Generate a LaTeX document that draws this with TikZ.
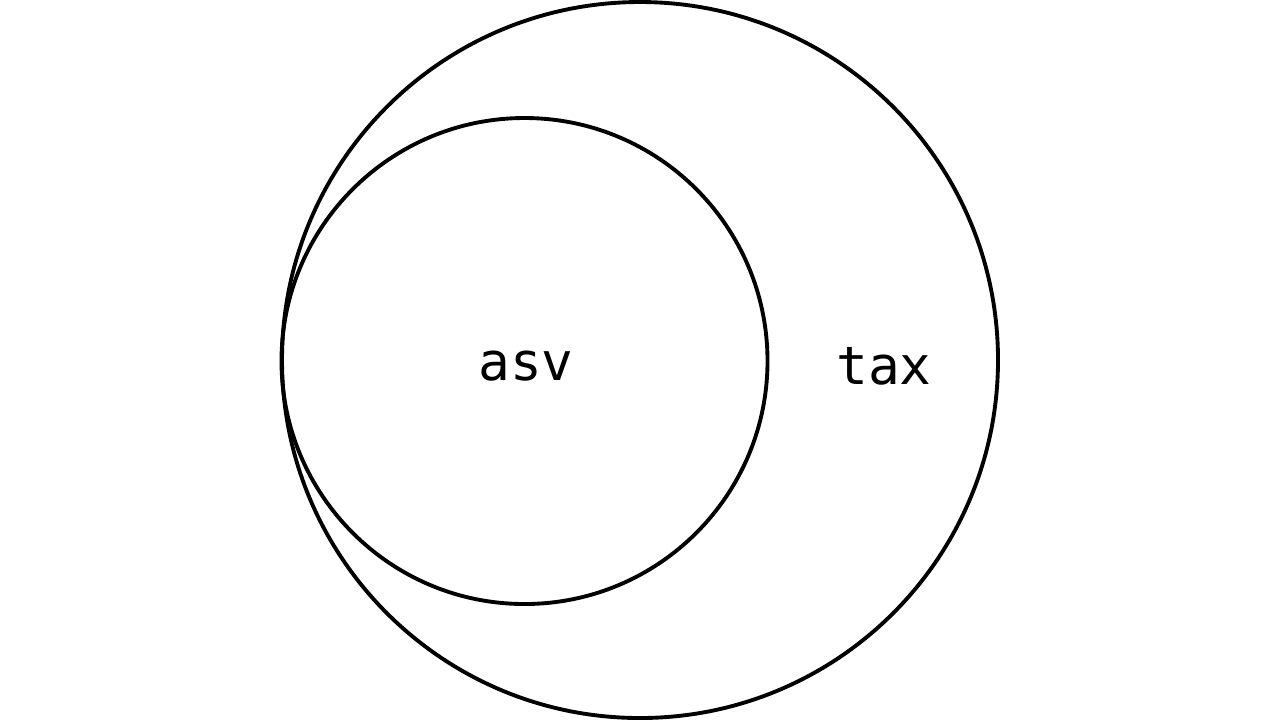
\documentclass[tikz,border=0pt]{standalone}
\usepackage{fontspec}
\setmonofont{DejaVu Sans Mono}
\usepackage{tikz}

\begin{document}
\begin{tikzpicture}[x=0.01cm,y=-0.01cm]
\tikzset{ring/.style={black, line width=1.1pt},
  lbl/.style={font=\ttfamily\fontsize{15}{17}\selectfont}}
\useasboundingbox (0,0) rectangle (1280,720);

% outer set
\draw[ring] (640,360) circle (358);
% inner set
\draw[ring] (524.5,361) circle (243);

\node[lbl] (asv) at (526,366) {asv};
\node[lbl] (tax) at (884,366) {tax};
\end{tikzpicture}
\end{document}
